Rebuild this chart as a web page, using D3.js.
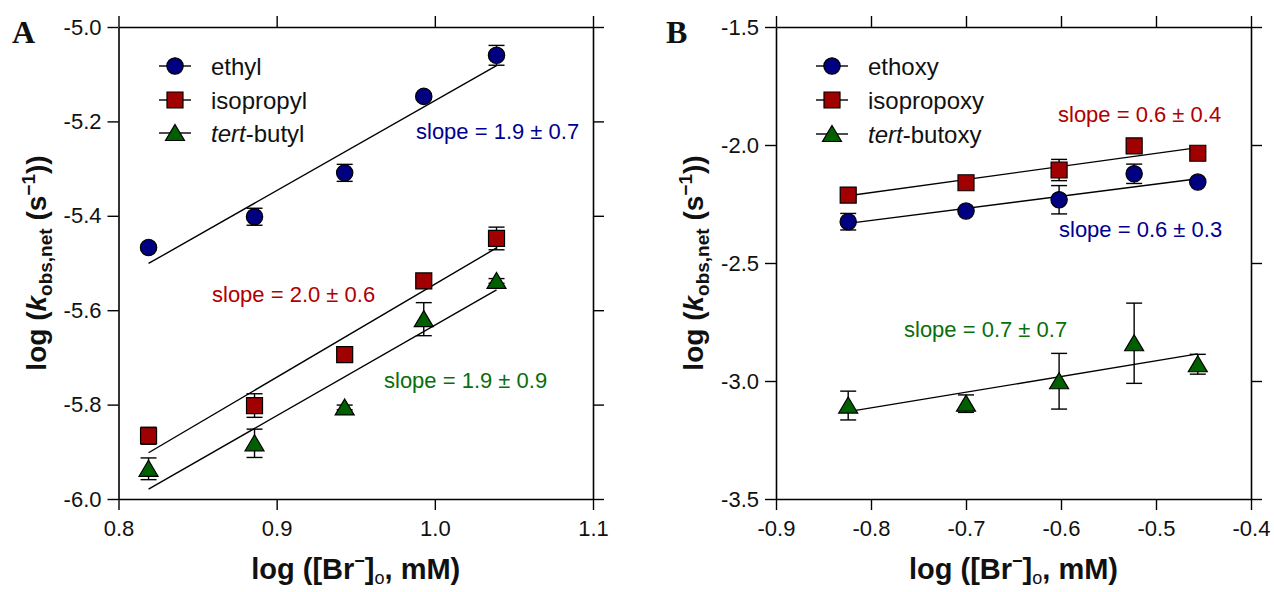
<!DOCTYPE html>
<html>
<head>
<meta charset="utf-8">
<script src="https://cdn.jsdelivr.net/npm/d3@7"></script>
<style>
  html, body { margin: 0; padding: 0; background: #fff; }
  svg { display: block; }
  text { font-family: Arial, "Liberation Sans", Helvetica, sans-serif; }
</style>
</head>
<body>
<svg id="chart" width="1274" height="592"></svg>
<script>
// ---------- Panel A data ----------
const xA = [0.819, 0.886, 0.943, 0.993, 1.039];
const ethyl = [-5.467, -5.402, -5.309, -5.147, -5.060];
const ethylErr = [0.005, 0.018, 0.018, 0.005, 0.021];
const isopropyl = [-5.866, -5.802, -5.694, -5.538, -5.448];
const isopropylErr = [0.018, 0.025, 0.008, 0.008, 0.024];
const tertButyl = [-5.936, -5.882, -5.806, -5.619, -5.538];
const tertButylErr = [0.023, 0.030, 0.005, 0.035, 0.005];
const fitXA = [0.819, 1.039];
const ethylFit = [-5.501, -5.082];
const isopropylFit = [-5.902, -5.468];
const tertButylFit = [-5.979, -5.557];
const xTicksA = [0.8, 0.9, 1.0, 1.1];
const yTicksA = [-6.0, -5.8, -5.6, -5.4, -5.2, -5.0];
const seriesA = ["ethyl", "isopropyl", "tert-butyl"];
const slopeA = ["slope = 1.9 \u00b1 0.7", "slope = 2.0 \u00b1 0.6", "slope = 1.9 \u00b1 0.9"];

// ---------- Panel B data ----------
const xB = [-0.824, -0.700, -0.602, -0.523, -0.456];
const ethoxy = [-2.325, -2.280, -2.232, -2.122, -2.157];
const ethoxyErr = [0.035, 0.008, 0.060, 0.041, 0.008];
const isopropoxy = [-2.212, -2.160, -2.106, -2.004, -2.035];
const isopropoxyErr = [0.008, 0.008, 0.045, 0.008, 0.008];
const tertButoxy = [-3.104, -3.096, -3.001, -2.840, -2.929];
const tertButoxyErr = [0.061, 0.037, 0.118, 0.170, 0.042];
const fitXB = [-0.824, -0.456];
const ethoxyFit = [-2.332, -2.143];
const isopropoxyFit = [-2.215, -2.011];
const tertButoxyFit = [-3.130, -2.885];
const xTicksB = [-0.9, -0.8, -0.7, -0.6, -0.5, -0.4];
const yTicksB = [-3.5, -3.0, -2.5, -2.0, -1.5];
const seriesB = ["ethoxy", "isopropoxy", "tert-butoxy"];
const slopeB = ["slope = 0.6 \u00b1 0.3", "slope = 0.6 \u00b1 0.4", "slope = 0.7 \u00b1 0.7"];

// ---------- styling ----------
const markerFill = ["#000080", "#a00000", "#006000"];
const textColor = ["#000090", "#b00000", "#0a6e0a"];
const shapes = ["circle", "square", "triangle"];

const svg = d3.select("#chart");

function markerPath(shape) {
  if (shape === "circle") return d3.symbol(d3.symbolCircle, 210)();
  if (shape === "square") return "M-8,-8H8V8H-8Z";
  return "M0,-8.5L9.5,7.5H-9.5Z";
}

function drawPanel(cfg) {
  const g = svg.append("g");
  const x = d3.scaleLinear().domain(cfg.xDomain).range([cfg.left, cfg.right]);
  const y = d3.scaleLinear().domain(cfg.yDomain).range([cfg.bottom, cfg.top]);
  const fmt = d => d.toFixed(1);
  const tick = 11;

  const axB = g.append("g").attr("transform", `translate(0,${cfg.bottom})`)
    .call(d3.axisBottom(x).tickValues(cfg.xTicks).tickSize(tick).tickSizeOuter(0).tickPadding(10).tickFormat(fmt));
  const axT = g.append("g").attr("transform", `translate(0,${cfg.top})`)
    .call(d3.axisTop(x).tickValues(cfg.xTicks).tickSize(tick).tickSizeOuter(0).tickFormat(""));
  const axL = g.append("g").attr("transform", `translate(${cfg.left},0)`)
    .call(d3.axisLeft(y).tickValues(cfg.yTicks).tickSize(tick).tickSizeOuter(0).tickPadding(6).tickFormat(fmt));
  const axR = g.append("g").attr("transform", `translate(${cfg.right},0)`)
    .call(d3.axisRight(y).tickValues(cfg.yTicks).tickSize(tick).tickSizeOuter(0).tickFormat(""));
  [axB, axT, axL, axR].forEach(a => {
    a.selectAll("path.domain").attr("stroke", "#000").attr("stroke-width", 1.6);
    a.selectAll(".tick line").attr("stroke", "#000").attr("stroke-width", 1.4);
    a.selectAll("text").attr("fill", "#111").attr("font-size", 22)
      .style("font-family", "Arial, 'Liberation Sans', sans-serif");
  });

  // fit lines
  cfg.fits.forEach(f => {
    g.append("line")
      .attr("x1", x(cfg.fitX[0])).attr("y1", y(f[0]))
      .attr("x2", x(cfg.fitX[1])).attr("y2", y(f[1]))
      .attr("stroke", "#000").attr("stroke-width", 1.4);
  });

  // error bars and markers
  cfg.series.forEach((s, si) => {
    const pts = cfg.xs.map((xv, i) => ({ x: xv, y: s.values[i], e: s.err[i] }));
    const eb = g.append("g").attr("stroke", "#000").attr("stroke-width", 1.4);
    pts.forEach(p => {
      const px = x(p.x), y1 = y(p.y - p.e), y2 = y(p.y + p.e);
      eb.append("line").attr("x1", px).attr("x2", px).attr("y1", y1).attr("y2", y2);
      eb.append("line").attr("x1", px - 8).attr("x2", px + 8).attr("y1", y1).attr("y2", y1);
      eb.append("line").attr("x1", px - 8).attr("x2", px + 8).attr("y1", y2).attr("y2", y2);
    });
    g.append("g").selectAll("path").data(pts).join("path")
      .attr("d", markerPath(shapes[si]))
      .attr("transform", p => `translate(${x(p.x)},${y(p.y)})`)
      .attr("fill", markerFill[si]).attr("stroke", "#000").attr("stroke-width", 1.2);
  });

  // legend
  const lg = g.append("g");
  cfg.legend.forEach((name, i) => {
    const ly = cfg.legendY[i];
    lg.append("line").attr("x1", cfg.legendX - 16).attr("x2", cfg.legendX + 16)
      .attr("y1", ly).attr("y2", ly).attr("stroke", "#000").attr("stroke-width", 1.4);
    lg.append("path").attr("d", markerPath(shapes[i]))
      .attr("transform", `translate(${cfg.legendX},${ly})`)
      .attr("fill", markerFill[i]).attr("stroke", "#000").attr("stroke-width", 1.2);
    const t = lg.append("text").attr("x", cfg.legendX + 36).attr("y", ly + 9)
      .attr("font-size", 24).attr("fill", "#111");
    if (name.startsWith("tert-")) {
      t.append("tspan").attr("font-style", "italic").text("tert");
      t.append("tspan").text(name.slice(4));
    } else {
      t.text(name);
    }
  });

  // slope labels
  cfg.slopes.forEach((s, i) => {
    g.append("text").attr("x", cfg.slopePos[i][0]).attr("y", cfg.slopePos[i][1])
      .attr("font-size", 22).attr("fill", textColor[i]).text(s);
  });

  // x title
  const cx = (cfg.left + cfg.right) / 2;
  const xt = g.append("text").attr("x", cx).attr("y", 579).attr("text-anchor", "middle")
    .attr("font-size", 29).attr("font-weight", "bold").attr("fill", "#111");
  xt.append("tspan").text("log ([Br");
  xt.append("tspan").attr("font-size", 18).attr("dy", -12).text("\u2212");
  xt.append("tspan").attr("dy", 12).text("]");
  xt.append("tspan").attr("font-size", 18).attr("font-weight", "normal").attr("dy", 5).text("o");
  xt.append("tspan").attr("dy", -5).text(", mM)");

  // y title
  const cy = (cfg.top + cfg.bottom) / 2;
  const yt = g.append("text").attr("transform", `translate(${cfg.left - 73},${cy}) rotate(-90)`)
    .attr("text-anchor", "middle").attr("font-size", 28).attr("font-weight", "bold").attr("fill", "#111");
  yt.append("tspan").text("log (");
  yt.append("tspan").attr("font-style", "italic").text("k");
  yt.append("tspan").attr("font-size", 19).attr("dy", 6).text("obs,net");
  yt.append("tspan").attr("dy", -6).text(" (s");
  yt.append("tspan").attr("font-size", 19).attr("dy", -11).text("\u22121");
  yt.append("tspan").attr("dy", 11).text("))");

  // panel letter
  svg.append("text").attr("x", cfg.letterX).attr("y", 43)
    .attr("font-family", "'Times New Roman', 'Liberation Serif', serif")
    .style("font-family", "'Times New Roman', 'Liberation Serif', serif")
    .attr("font-size", 32).attr("font-weight", "bold").attr("fill", "#111").text(cfg.letter);
}

drawPanel({
  left: 118.5, right: 593, top: 27, bottom: 499,
  xDomain: [0.8, 1.1], yDomain: [-6.0, -5.0],
  xTicks: xTicksA, yTicks: yTicksA,
  xs: xA,
  series: [
    { values: ethyl, err: ethylErr },
    { values: isopropyl, err: isopropylErr },
    { values: tertButyl, err: tertButylErr }
  ],
  fitX: fitXA, fits: [ethylFit, isopropylFit, tertButylFit],
  legend: seriesA, legendX: 175, legendY: [66, 100, 133],
  slopes: slopeA, slopePos: [[416, 139], [212, 302], [384, 388]],
  letter: "A", letterX: 12
});

drawPanel({
  left: 776, right: 1251, top: 27, bottom: 499,
  xDomain: [-0.9, -0.4], yDomain: [-3.5, -1.5],
  xTicks: xTicksB, yTicks: yTicksB,
  xs: xB,
  series: [
    { values: ethoxy, err: ethoxyErr },
    { values: isopropoxy, err: isopropoxyErr },
    { values: tertButoxy, err: tertButoxyErr }
  ],
  fitX: fitXB, fits: [ethoxyFit, isopropoxyFit, tertButoxyFit],
  legend: seriesB, legendX: 832, legendY: [66, 100, 134],
  slopes: slopeB, slopePos: [[1059, 237], [1058, 122], [904, 337]],
  letter: "B", letterX: 666
});
</script>
</body>
</html>
